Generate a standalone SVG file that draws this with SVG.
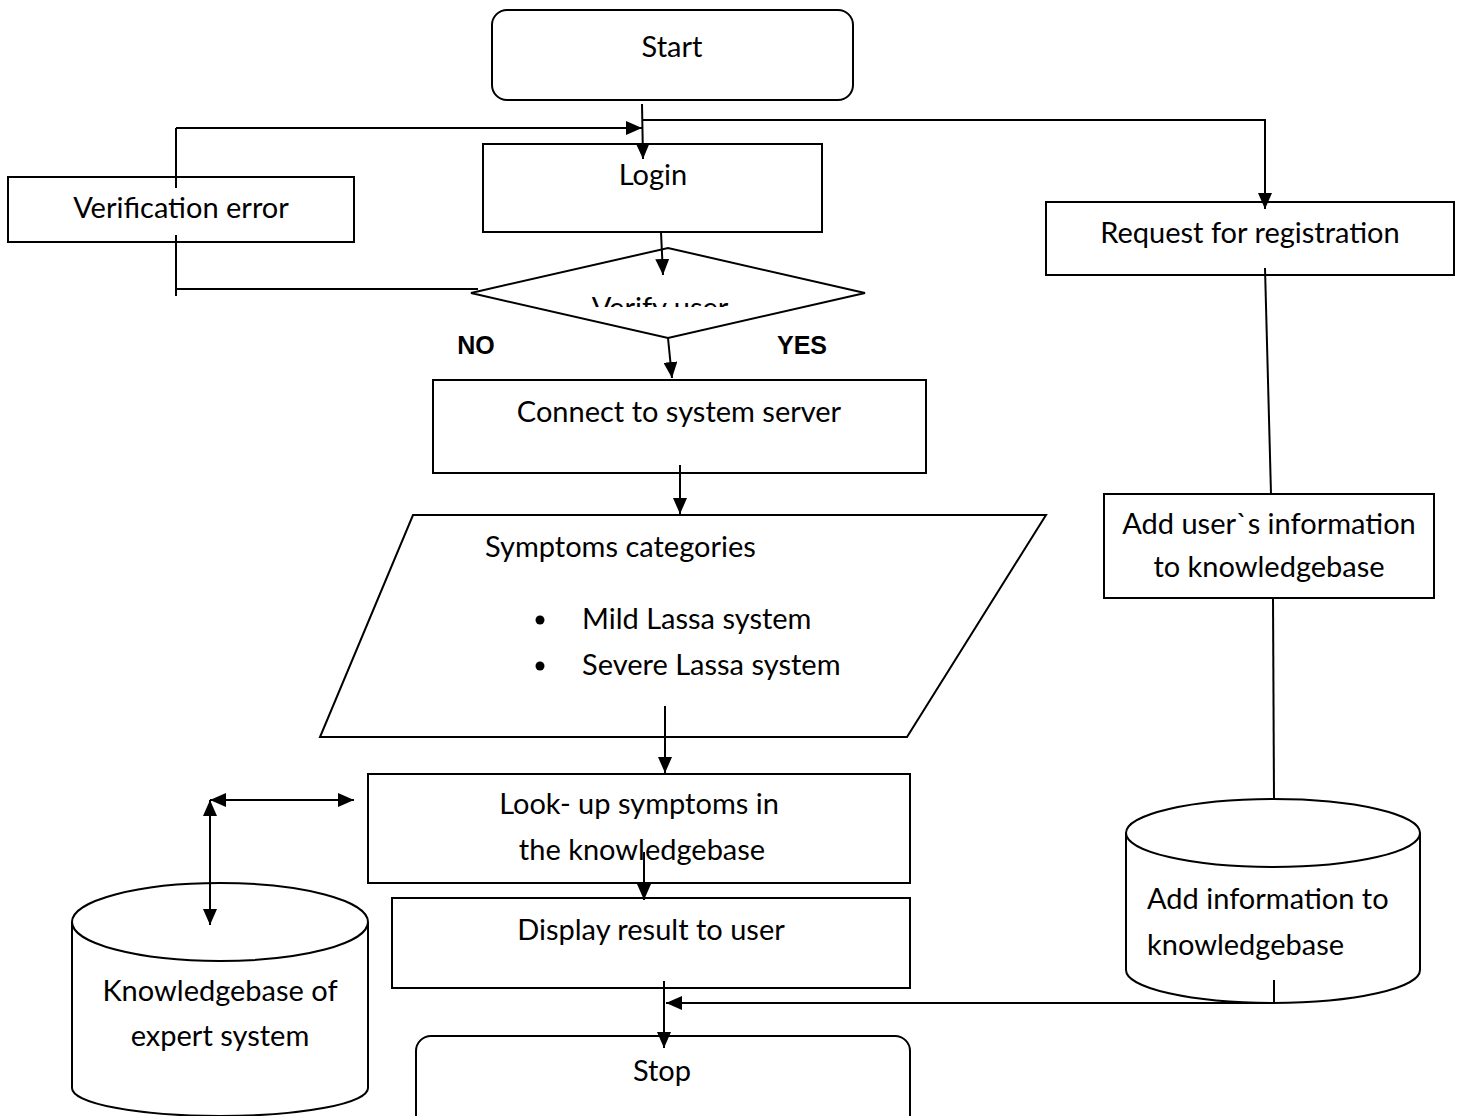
<svg xmlns="http://www.w3.org/2000/svg" width="1464" height="1116" viewBox="0 0 1464 1116">
  <style>
    .box { fill: #fff; stroke: #000; stroke-width: 2; }
    .ln { fill: none; stroke: #000; stroke-width: 2; }
    .t { font-family: Lato, "Open Sans", "Liberation Sans", sans-serif; font-size: 29px; fill: #000; }
    .c { text-anchor: middle; }
    .b { font-family: "Liberation Sans", Arial, sans-serif; font-size: 25px; font-weight: bold; fill: #000; }
  </style>
  <defs>
    <marker id="arr" viewBox="0 0 16 14" refX="16" refY="7" markerWidth="16" markerHeight="14" markerUnits="userSpaceOnUse" orient="auto-start-reverse">
      <path d="M0,0 L16,7 L0,14 Z" fill="#000"/>
    </marker>
    <clipPath id="clipVerify">
      <rect x="470" y="248" width="400" height="59"/>
    </clipPath>
  </defs>

  <!-- nodes -->
  <g id="start">
    <rect class="box" x="492" y="10" width="361" height="90" rx="15"/>
    <text class="t c" x="672" y="57">Start</text>
  </g>

  <g id="verification-error">
    <rect class="box" x="8" y="177" width="346" height="65"/>
    <text class="t c" x="181" y="218">Verification error</text>
  </g>

  <g id="login">
    <rect class="box" x="483" y="144" width="339" height="88"/>
    <text class="t c" x="653" y="185">Login</text>
  </g>

  <g id="verify-user">
    <polygon class="box" points="471,293 668,248 865,293 668,338"/>
    <text class="t c" x="660" y="318" clip-path="url(#clipVerify)">Verify user</text>
  </g>

  <g id="request-registration">
    <rect class="box" x="1046" y="202" width="408" height="73"/>
    <text class="t c" x="1250" y="243">Request for registration</text>
  </g>

  <g id="connect-server">
    <rect class="box" x="433" y="380" width="493" height="93"/>
    <text class="t c" x="679" y="422">Connect to system server</text>
  </g>

  <g id="symptoms">
    <polygon class="box" points="413,515 1046,515 907,737 320,737"/>
    <text class="t" x="485" y="557">Symptoms categories</text>
    <circle cx="540" cy="620" r="4.5" fill="#000"/>
    <text class="t" x="582" y="629">Mild Lassa system</text>
    <circle cx="540" cy="666" r="4.5" fill="#000"/>
    <text class="t" x="582" y="675">Severe Lassa system</text>
  </g>

  <g id="add-user-info">
    <rect class="box" x="1104" y="494" width="330" height="104"/>
    <text class="t c" x="1269" y="534">Add user`s information</text>
    <text class="t c" x="1269" y="577">to knowledgebase</text>
  </g>

  <g id="lookup">
    <rect class="box" x="368" y="774" width="542" height="109"/>
    <text class="t c" x="639" y="814">Look- up symptoms in</text>
    <text class="t c" x="642" y="860">the knowledgebase</text>
  </g>

  <g id="display-result">
    <rect class="box" x="392" y="898" width="518" height="90"/>
    <text class="t c" x="651" y="940">Display result to user</text>
  </g>

  <g id="stop">
    <rect class="box" x="416" y="1036" width="494" height="100" rx="15"/>
    <text class="t c" x="662" y="1081">Stop</text>
  </g>

  <g id="add-info-kb">
    <path class="box" d="M1126,833 L1126,970 A147,33 0 0 0 1420,970 L1420,833 A147,34 0 0 0 1126,833 Z"/>
    <path class="ln" d="M1126,833 A147,34 0 0 0 1420,833"/>
    <text class="t" x="1147" y="909">Add information to</text>
    <text class="t" x="1147" y="955">knowledgebase</text>
  </g>

  <g id="expert-kb">
    <path class="box" d="M72,922 L72,1088 A148,28 0 0 0 368,1088 L368,922 A148,39 0 0 0 72,922 Z"/>
    <path class="ln" d="M72,922 A148,39 0 0 0 368,922"/>
    <text class="t c" x="220" y="1001">Knowledgebase of</text>
    <text class="t c" x="220" y="1046">expert system</text>
  </g>

  <g id="labels">
    <text class="b c" x="476" y="354">NO</text>
    <text class="b c" x="802" y="354">YES</text>
  </g>

  <!-- connectors -->
  <g id="connectors">
    <!-- start to login -->
    <line class="ln" x1="642" y1="104" x2="643" y2="159" marker-end="url(#arr)"/>
    <!-- branch to registration -->
    <polyline class="ln" points="642,120 1265,120 1265,209" marker-end="url(#arr)"/>
    <!-- verification error loop back to login -->
    <line class="ln" x1="176" y1="128" x2="176" y2="188"/>
    <line class="ln" x1="176" y1="235" x2="176" y2="296"/>
    <line class="ln" x1="176" y1="289" x2="478" y2="289"/>
    <line class="ln" x1="176" y1="128" x2="642" y2="128" marker-end="url(#arr)"/>
    <!-- login to verify -->
    <line class="ln" x1="661" y1="232" x2="663" y2="275" marker-end="url(#arr)"/>
    <!-- verify to connect -->
    <line class="ln" x1="668" y1="338" x2="672" y2="378" marker-end="url(#arr)"/>
    <!-- connect to symptoms -->
    <line class="ln" x1="680" y1="465" x2="680" y2="514" marker-end="url(#arr)"/>
    <!-- symptoms to lookup -->
    <line class="ln" x1="665" y1="706" x2="665" y2="773" marker-end="url(#arr)"/>
    <!-- lookup to display -->
    <line class="ln" x1="644" y1="852" x2="644" y2="900" marker-end="url(#arr)"/>
    <!-- display to stop -->
    <line class="ln" x1="664" y1="981" x2="664" y2="1048" marker-end="url(#arr)"/>
    <!-- registration path -->
    <line class="ln" x1="1265" y1="268" x2="1271" y2="494"/>
    <line class="ln" x1="1273" y1="598" x2="1274" y2="800"/>
    <polyline class="ln" points="1274,980 1274,1003 666,1003" marker-end="url(#arr)"/>
    <!-- lookup to expert knowledgebase (two-way) -->
    <line class="ln" x1="210" y1="800" x2="354" y2="800" marker-start="url(#arr)" marker-end="url(#arr)"/>
    <line class="ln" x1="210" y1="800" x2="210" y2="925" marker-start="url(#arr)" marker-end="url(#arr)"/>
  </g>
</svg>
